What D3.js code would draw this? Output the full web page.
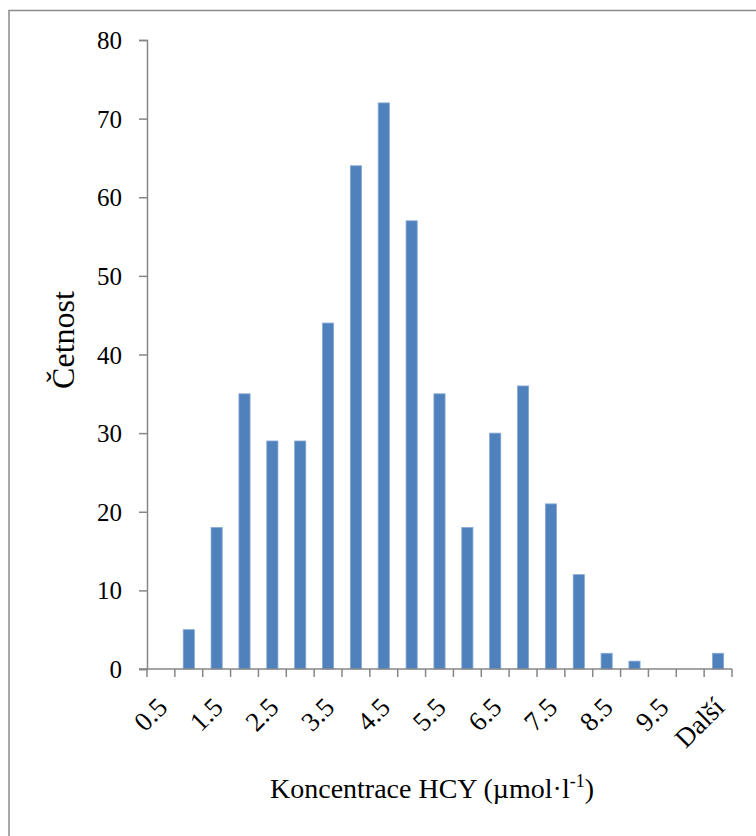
<!DOCTYPE html>
<html>
<head>
<meta charset="utf-8">
<script src="https://cdn.jsdelivr.net/npm/d3@7"></script>
<style>
  html, body { margin: 0; padding: 0; background: #fff; }
  svg { display: block; }
  text { font-family: "Liberation Serif", "Times New Roman", serif; fill: #000; }
</style>
</head>
<body>
<svg id="chart" width="756" height="836"></svg>
<script>
// Histogram bins (upper bin limits) and frequencies
const categories = ["0.5", "1", "1.5", "2", "2.5", "3", "3.5", "4", "4.5", "5",
                    "5.5", "6", "6.5", "7", "7.5", "8", "8.5", "9", "9.5", "10", "Další"];
const counts = [0, 5, 18, 35, 29, 29, 44, 64, 72, 57,
                35, 18, 30, 36, 21, 12, 2, 1, 0, 0, 2];
const yTicks = [0, 10, 20, 30, 40, 50, 60, 70, 80];
// every second bin gets a printed label
const shownLabels = ["0.5", "1.5", "2.5", "3.5", "4.5", "5.5", "6.5", "7.5", "8.5", "9.5", "Další"];

const svg = d3.select("#chart");
const axisColor = "#868686";

// outer chart frame
svg.append("rect")
  .attr("x", 9).attr("y", 10.5)
  .attr("width", 800).attr("height", 900)
  .attr("fill", "none")
  .attr("stroke", "#8c8c8c")
  .attr("stroke-width", 1.5);

const plot = { left: 147, right: 732, top: 40, bottom: 669 };

const xOuter = d3.scaleBand()
  .domain(categories)
  .range([plot.left, plot.right]);

const y = d3.scaleLinear()
  .domain([0, 80])
  .range([plot.bottom, plot.top]);

// bars (gap width 150% of bar width)
const barW = xOuter.bandwidth() / 2.5;
svg.append("g")
  .selectAll("rect")
  .data(categories.map((c, i) => ({ c, v: counts[i] })))
  .join("rect")
  .attr("x", d => xOuter(d.c) + (xOuter.bandwidth() - barW) / 2)
  .attr("width", barW)
  .attr("y", d => y(d.v))
  .attr("height", d => y(0) - y(d.v))
  .attr("fill", "#4F81BD")
  .attr("stroke", "#86a8d4")
  .attr("stroke-width", 0.8);

// y axis
const yAxis = svg.append("g")
  .attr("transform", `translate(${plot.left},0)`)
  .call(d3.axisLeft(y).tickValues(yTicks).tickSize(8).tickPadding(17).tickFormat(d3.format("d")));
yAxis.select(".domain").attr("stroke", axisColor).attr("stroke-width", 1.5);
yAxis.selectAll(".tick line").attr("stroke", axisColor).attr("stroke-width", 1.5);
yAxis.selectAll(".tick text")
  .attr("font-family", "Liberation Serif")
  .attr("font-size", 25)
  .attr("dy", "0.34em");

// x axis line with ticks at every bin boundary
const xg = svg.append("g");
xg.append("line")
  .attr("x1", plot.left - 8).attr("x2", plot.right)
  .attr("y1", plot.bottom).attr("y2", plot.bottom)
  .attr("stroke", axisColor).attr("stroke-width", 1.5);
const boundaries = categories.map(c => xOuter(c)).concat([xOuter.range()[1]]);
xg.selectAll("line.tk")
  .data(boundaries)
  .join("line")
  .attr("class", "tk")
  .attr("x1", d => d).attr("x2", d => d)
  .attr("y1", plot.bottom).attr("y2", plot.bottom + 8)
  .attr("stroke", axisColor).attr("stroke-width", 1.5);

// rotated category labels
xg.selectAll("text.lbl")
  .data(shownLabels)
  .join("text")
  .attr("class", "lbl")
  .attr("font-size", 27)
  .attr("text-anchor", "end")
  .attr("transform", d => `translate(${xOuter(d) + xOuter.bandwidth() / 2 + 8},${plot.bottom + 40}) rotate(-45)`)
  .text(d => d);

// axis titles
svg.append("text")
  .attr("x", 432).attr("y", 798)
  .attr("text-anchor", "middle")
  .attr("font-size", 28)
  .call(t => {
    t.append("tspan").text("Koncentrace HCY (µmol·l");
    t.append("tspan").attr("font-size", 18).attr("dy", -11).text("-1");
    t.append("tspan").attr("dy", 11).text(")");
  });

svg.append("text")
  .attr("transform", "translate(74,340) rotate(-90)")
  .attr("text-anchor", "middle")
  .attr("font-size", 32)
  .text("Četnost");
</script>
</body>
</html>
